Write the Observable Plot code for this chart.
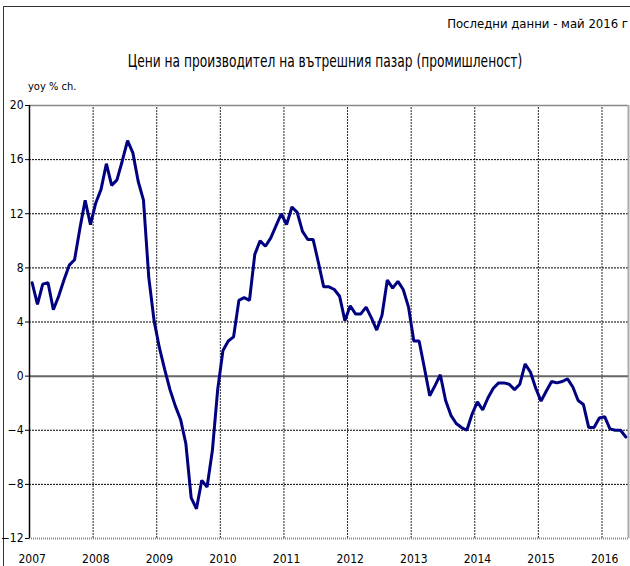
<!DOCTYPE html>
<html>
<head>
<meta charset="utf-8">
<script src="https://cdn.jsdelivr.net/npm/d3@7"></script>
<script src="https://cdn.jsdelivr.net/npm/@observablehq/plot@0.6"></script>
<style>
  body { margin: 0; background: #fff; }
  #wrap { position: relative; width: 630px; height: 566px; overflow: hidden; background: #fff;
          font-family: "Liberation Sans Narrow", "DejaVu Sans Condensed", "Liberation Sans", sans-serif; font-stretch: condensed; }
  #frame { position: absolute; left: 3px; top: 6px; width: 640px; height: 600px; border-left: 1px solid #333; border-top: 1px solid #333; }
  #last { position: absolute; right: 2px; top: 16px; font-size: 13px; color: #000; }
  #title { position: absolute; left: 0; width: 650px; text-align: center; top: 51px; font-size: 17px; color: #000; transform: scaleX(0.8); transform-origin: 325px 0; }
  #unit { position: absolute; left: 28px; top: 80px; font-size: 11px; color: #000; }
  #chart { position: absolute; left: 0; top: 95px; }
</style>
</head>
<body>
<div id="wrap">
  <div id="frame"></div>
  <div id="last">Последни данни - май 2016 г</div>
  <div id="title">Цени на производител на вътрешния пазар (промишленост)</div>
  <div id="unit">yoy % ch.</div>
  <div id="chart"></div>
</div>
<script>
const startYear = 2007;
const values2007 = [6.9, 5.3, 6.8, 6.9, 4.9, 5.9, 7.1, 8.2, 8.6, 10.9, 13.0, 11.2];
const values2008 = [12.8, 13.8, 15.7, 14.1, 14.5, 15.9, 17.4, 16.5, 14.4, 13.0, 7.3, 4.1];
const values2009 = [2.1, 0.5, -1.0, -2.2, -3.2, -5.0, -9.0, -9.8, -7.7, -8.2, -5.5, -1.0];
const values2010 = [1.9, 2.6, 2.9, 5.6, 5.8, 5.6, 9.0, 10.0, 9.6, 10.2, 11.1, 12.0];
const values2011 = [11.2, 12.5, 12.1, 10.7, 10.1, 10.1, 8.4, 6.6, 6.6, 6.4, 5.9, 4.1];
const values2012 = [5.2, 4.6, 4.6, 5.1, 4.3, 3.4, 4.5, 7.1, 6.5, 7.0, 6.4, 5.1];
const values2013 = [2.6, 2.6, 0.6, -1.45, -0.7, 0.1, -1.8, -2.9, -3.5, -3.8, -4.0, -2.8];
const values2014 = [-1.9, -2.5, -1.6, -0.9, -0.5, -0.5, -0.6, -1.0, -0.6, 0.9, 0.3, -0.9];
const values2015 = [-1.85, -1.1, -0.4, -0.5, -0.4, -0.2, -0.8, -1.8, -2.1, -3.8, -3.8, -3.1];
const values2016 = [-3.0, -3.9, -4.0, -4.0, -4.5];
const yearLabels = ["2007","2008","2009","2010","2011","2012","2013","2014","2015","2016"];
const yTicks = [-12, -8, -4, 0, 4, 8, 12, 16, 20];

const allValues = [values2007, values2008, values2009, values2010, values2011,
                   values2012, values2013, values2014, values2015, values2016].flat();
const data = allValues.map((v, i) => ({ t: startYear + (i + 0.5) / 12, v }));
const xMax = startYear + allValues.length / 12;
const years = yearLabels.map(Number);

const chart = Plot.plot({
  width: 630,
  height: 471,
  marginLeft: 29,
  marginRight: 2,
  marginTop: 10,
  marginBottom: 28,
  style: { fontFamily: '"Liberation Sans Narrow", "DejaVu Sans Condensed", "Liberation Sans", sans-serif', fontSize: "12px", fontStretch: "condensed", background: "transparent" },
  x: { domain: [startYear, xMax] },
  y: { domain: [-12, 20] },
  marks: [
    Plot.ruleY(yTicks.filter(d => d !== 0 && d !== -12 && d !== 20), { stroke: "#000", strokeWidth: 1, strokeDasharray: "2,1" }),
    Plot.ruleX(years.slice(1), { y1: -12, y2: 20, stroke: "#000", strokeWidth: 1, strokeDasharray: "2,1", strokeOpacity: 0.85 }),
    Plot.ruleY([20], { stroke: "#888", strokeWidth: 1.5 }),
    Plot.ruleY([-12], { stroke: "#888", strokeWidth: 2, strokeDasharray: "1,1" }),
    Plot.ruleX([xMax], { y1: -12, y2: 20, stroke: "#aaa", strokeWidth: 2 }),
    Plot.ruleY([0], { stroke: "#666", strokeWidth: 2 }),
    Plot.ruleX([startYear], { y1: -12, y2: 20, stroke: "#000", strokeWidth: 1.5 }),
    Plot.line(data, { x: "t", y: "v", stroke: "#000080", strokeWidth: 3, strokeLinejoin: "miter" }),
    Plot.axisY({ ticks: yTicks, tickSize: 4, tickPadding: 2, label: null, fontSize: 12, color: "#000" }),
    Plot.axisX({ ticks: years.map(y => y + 1 / 24), tickFormat: d => String(Math.floor(d)), tickSize: 0, tickPadding: 16, label: null, fontSize: 12 })
  ]
});
document.getElementById("chart").appendChild(chart);
</script>
</body>
</html>
